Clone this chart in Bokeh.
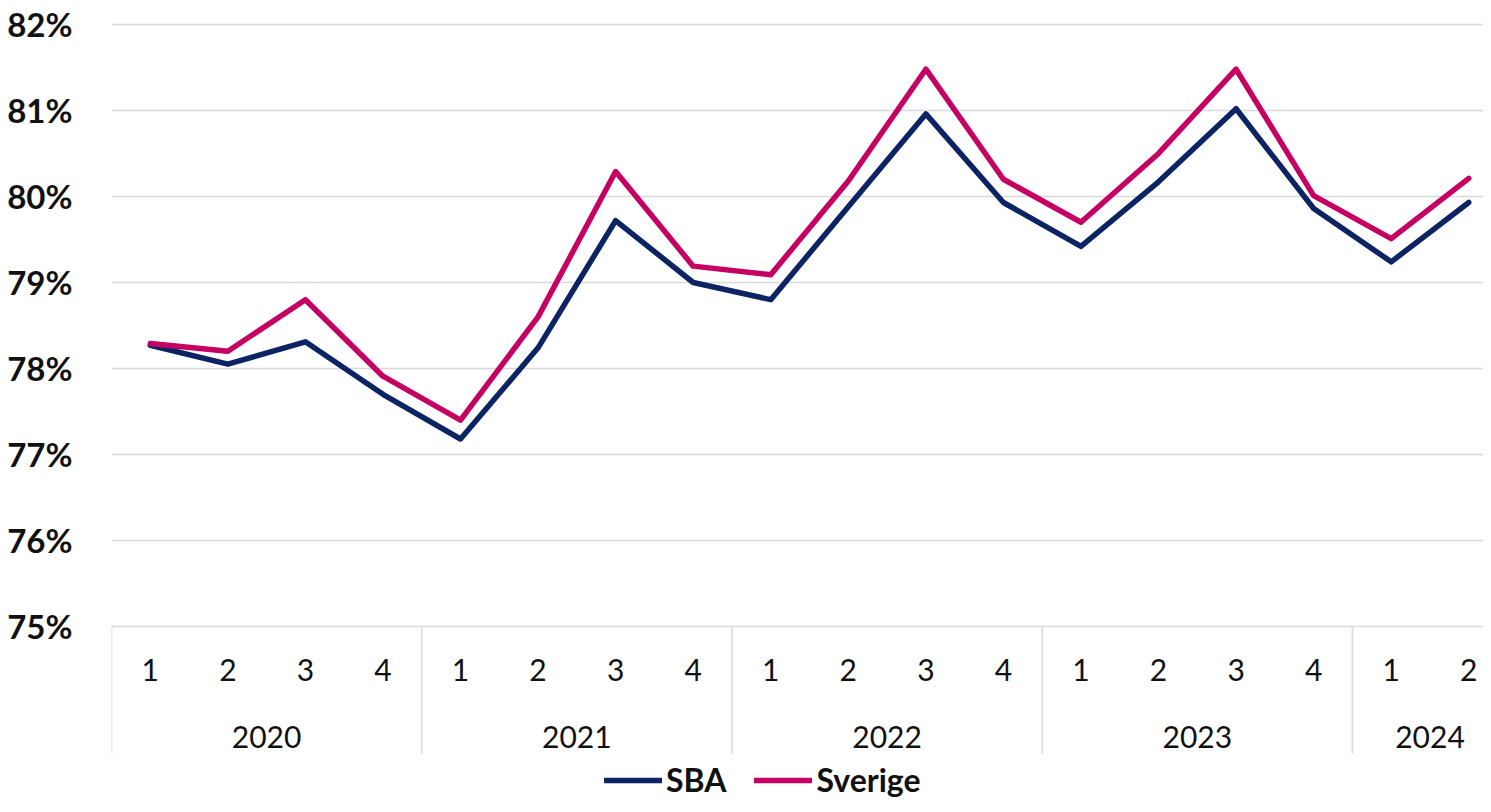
from bokeh.plotting import figure
from bokeh.models import (Range1d, FixedTicker, PrintfTickFormatter, Legend, LegendItem)
from bokeh.core.properties import value
from bokeh.embed import file_html
from bokeh.resources import INLINE

# ---- data ----
years = ["2020", "2021", "2022", "2023", "2024"]
quarters_per_year = [4, 4, 4, 4, 2]
quarter_labels = ["1", "2", "3", "4", "1", "2", "3", "4", "1", "2", "3", "4",
                  "1", "2", "3", "4", "1", "2"]
sba = [78.27, 78.05, 78.31, 77.70, 77.18, 78.24, 79.72, 79.00, 78.80, 79.88,
       80.96, 79.93, 79.42, 80.17, 81.02, 79.86, 79.24, 79.93]
sverige = [78.29, 78.20, 78.80, 77.91, 77.40, 78.60, 80.29, 79.19, 79.09, 80.18,
           81.48, 80.20, 79.70, 80.50, 81.48, 80.01, 79.51, 80.21]
y_ticks = [75, 76, 77, 78, 79, 80, 81, 82]

FONT = "Lato"
NAVY = "#0C2364"
MAGENTA = "#C50062"
GRID = "#D9D9D9"

x = list(range(len(quarter_labels)))

p = figure(width=1483, height=804, output_backend="svg", toolbar_location=None,
           x_range=Range1d(-0.5, 17.19), y_range=Range1d(72.93, 82.023),
           min_border_left=111, min_border_right=0, min_border_top=22,
           min_border_bottom=0)
p.outline_line_color = None
p.background_fill_color = "white"
p.border_fill_color = "white"

# axes
p.xaxis.visible = False
p.xgrid.visible = False
yax = p.yaxis[0]
yax.ticker = FixedTicker(ticks=y_ticks)
yax.formatter = PrintfTickFormatter(format="%d%%")
yax.axis_line_color = None
yax.major_tick_line_color = None
yax.minor_tick_line_color = None
yax.major_label_standoff = 33
yax.major_label_text_font = FONT
yax.major_label_text_font_style = "bold"
yax.major_label_text_font_size = "33px"
yax.major_label_text_color = "#111111"
p.ygrid.ticker = FixedTicker(ticks=y_ticks)
p.ygrid.grid_line_color = GRID
p.ygrid.grid_line_width = 1.6

# category axis drawn by hand (two-level)
label_y_q = 74.49
label_y_year = 73.71
sep_bottom = 73.52

p.text(x=x, y=[label_y_q] * len(x), text=quarter_labels, text_font=value(FONT),
       text_font_size="30px", text_align="center", text_baseline="middle",
       text_color="#111111")

year_centers = []
seps = [-0.5]
start = 0
for n in quarters_per_year:
    year_centers.append(start + (n - 1) / 2)
    start += n
    seps.append(start - 0.5)
p.text(x=year_centers, y=[label_y_year] * len(years), text=years, text_font=value(FONT),
       text_font_size="30px", text_align="center", text_baseline="middle",
       text_color="#111111")
p.segment(x0=seps, y0=[y_ticks[0]] * len(seps), x1=seps, y1=[sep_bottom] * len(seps),
          line_color=GRID, line_width=1.6)

# series
r1 = p.line(x, sba, line_color=NAVY, line_width=5.5, line_join="round", line_cap="round")
r2 = p.line(x, sverige, line_color=MAGENTA, line_width=5.5, line_join="round", line_cap="round")

legend = Legend(items=[LegendItem(label="SBA", renderers=[r1]),
                       LegendItem(label="Sverige", renderers=[r2])],
                orientation="horizontal", location=(493, 5),
                glyph_width=58, glyph_height=20, label_standoff=4, spacing=28,
                padding=0, margin=0, border_line_color=None, background_fill_alpha=0,
                label_text_font=FONT, label_text_font_style="bold",
                label_text_font_size="32px", label_text_color="#111111")
p.add_layout(legend)

open("out.html", "w").write(file_html(p, INLINE))
